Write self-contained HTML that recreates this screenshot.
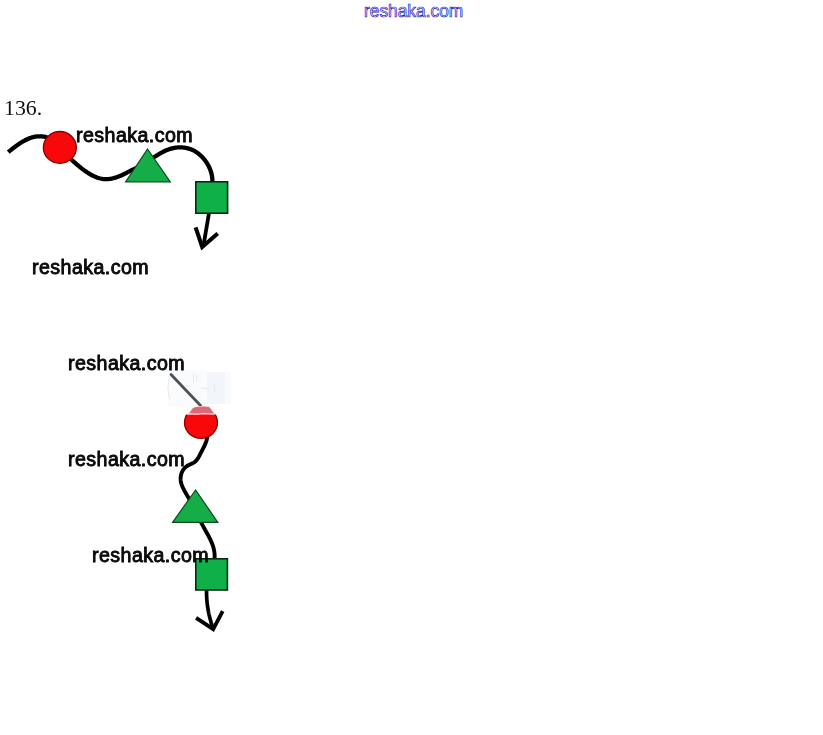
<!DOCTYPE html>
<html><head><meta charset="utf-8">
<style>
html,body{margin:0;padding:0;background:#fff;width:823px;height:735px;overflow:hidden;position:relative}
.t{position:absolute;will-change:transform;font-family:"Liberation Sans",sans-serif;font-weight:normal;font-size:19.6px;line-height:1;color:#111;-webkit-text-stroke:0.85px #000;letter-spacing:0.45px;white-space:nowrap;transform-origin:0 0;transform:scaleX(1.0)}
#hdr{position:absolute;left:363.9px;top:2.9px;font-family:"Liberation Sans",sans-serif;font-weight:normal;font-size:17.7px;line-height:1;color:#f0f0ff;-webkit-text-stroke:0.7px #2020c0;white-space:nowrap;transform-origin:0 0;transform:scaleX(0.98)}
#num{position:absolute;will-change:transform;left:4.1px;top:97.6px;font-family:"Liberation Serif",serif;font-size:21.8px;line-height:1;color:#111;white-space:nowrap}
svg{position:absolute;left:0;top:0}
</style></head><body>
<svg width="823" height="735" viewBox="0 0 823 735">
  <g fill="none" stroke="#000" stroke-linecap="butt" stroke-linejoin="round">
    <path d="M8.25,152.14 L8.69,151.78 L9.13,151.42 L9.57,151.07 L10.02,150.70 L10.47,150.34 L10.92,149.98 L11.38,149.62 L11.84,149.25 L12.30,148.89 L12.76,148.53 L13.23,148.16 L13.70,147.80 L14.17,147.44 L14.64,147.08 L15.12,146.72 L15.60,146.36 L16.08,146.01 L16.56,145.65 L17.05,145.30 L17.54,144.96 L18.03,144.61 L18.52,144.27 L19.02,143.93 L19.52,143.60 L20.02,143.27 L20.52,142.94 L21.03,142.62 L21.54,142.30 L22.05,141.99 L22.56,141.69 L23.08,141.39 L23.60,141.09 L24.12,140.80 L24.64,140.52 L25.16,140.25 L25.69,139.98 L26.22,139.72 L26.75,139.46 L27.28,139.22 L27.81,138.98 L28.35,138.75 L28.89,138.53 L29.43,138.32 L29.97,138.11 L30.52,137.92 L31.06,137.73 L31.61,137.56 L32.16,137.39 L32.72,137.24 L33.27,137.09 L33.83,136.96 L34.39,136.84 L34.95,136.73 L35.51,136.63 L36.07,136.54 L36.64,136.47 L37.20,136.40 L37.77,136.35 L38.34,136.31 L38.91,136.29 L39.49,136.28 L40.06,136.28 L40.64,136.30 L41.22,136.33 L41.80,136.37 L42.38,136.43 L42.97,136.51 L43.55,136.60 L44.14,136.70 L44.72,136.82 L45.31,136.96 L45.90,137.11 L46.50,137.28 L47.09,137.47 L47.69,137.67 L48.28,137.89 L48.88,138.13 L49.48,138.39 L50.08,138.66" stroke-width="4.3"/>
    <path d="M68.18,156.84 L68.89,157.45 L69.61,158.07 L70.33,158.71 L71.07,159.35 L71.81,160.01 L72.56,160.67 L73.32,161.34 L74.09,162.02 L74.86,162.70 L75.65,163.39 L76.44,164.07 L77.24,164.76 L78.05,165.45 L78.86,166.13 L79.69,166.81 L80.52,167.49 L81.36,168.16 L82.20,168.82 L83.05,169.47 L83.91,170.12 L84.78,170.75 L85.65,171.37 L86.53,171.98 L87.42,172.57 L88.31,173.14 L89.21,173.70 L90.11,174.24 L91.02,174.76 L91.94,175.25 L92.86,175.73 L93.79,176.17 L94.72,176.60 L95.66,176.99 L96.61,177.36 L97.56,177.70 L98.51,178.00 L99.47,178.28 L100.44,178.52 L101.41,178.73 L102.38,178.90 L103.36,179.03 L104.34,179.12 L105.33,179.18 L106.32,179.19 L107.32,179.16 L108.31,179.09 L109.31,178.98 L110.32,178.84 L111.32,178.67 L112.32,178.46 L113.33,178.22 L114.33,177.95 L115.33,177.65 L116.33,177.33 L117.32,176.98 L118.31,176.62 L119.30,176.23 L120.28,175.82 L121.26,175.40 L122.23,174.97 L123.19,174.52 L124.15,174.06 L125.10,173.59 L126.05,173.11 L126.99,172.63 L127.93,172.15 L128.87,171.67 L129.80,171.18 L130.73,170.70 L131.65,170.23 L132.58,169.76 L133.50,169.30 L134.43,168.86 L135.35,168.42 L136.27,168.00 L137.19,167.60 L138.11,167.21 L139.03,166.85 L139.96,166.51" stroke-width="4.3"/>
    <path d="M148.10,161.12 L149.00,160.53 L149.91,159.93 L150.84,159.32 L151.77,158.70 L152.71,158.07 L153.66,157.45 L154.63,156.82 L155.60,156.19 L156.58,155.57 L157.57,154.96 L158.57,154.35 L159.57,153.76 L160.59,153.17 L161.61,152.61 L162.64,152.06 L163.69,151.53 L164.73,151.03 L165.79,150.55 L166.85,150.10 L167.93,149.67 L169.00,149.28 L170.09,148.92 L171.18,148.60 L172.28,148.31 L173.38,148.06 L174.49,147.85 L175.60,147.68 L176.71,147.54 L177.83,147.44 L178.94,147.38 L180.05,147.36 L181.16,147.38 L182.27,147.43 L183.37,147.53 L184.46,147.66 L185.55,147.83 L186.63,148.05 L187.71,148.30 L188.77,148.60 L189.82,148.93 L190.86,149.31 L191.89,149.73 L192.91,150.19 L193.91,150.69 L194.89,151.23 L195.86,151.82 L196.80,152.44 L197.73,153.10 L198.64,153.79 L199.53,154.52 L200.40,155.28 L201.25,156.07 L202.07,156.90 L202.87,157.75 L203.64,158.62 L204.39,159.53 L205.11,160.45 L205.80,161.40 L206.46,162.37 L207.10,163.36 L207.70,164.37 L208.27,165.39 L208.80,166.43 L209.31,167.48 L209.78,168.55 L210.21,169.62 L210.61,170.71 L210.97,171.80 L211.29,172.90 L211.57,174.00 L211.81,175.11 L212.01,176.22 L212.17,177.33 L212.29,178.44 L212.36,179.54 L212.38,180.65 L212.37,181.74 L212.30,182.83 L212.19,183.92" stroke-width="4.3"/>
    <path d="M209,213 L203.5,245.5" stroke-width="3.8"/>
    <path d="M195.6,227.4 L202.2,247 L217.7,233.4" stroke-width="4" stroke-linejoin="miter"/>
  </g>
  <ellipse cx="59.85" cy="147.4" rx="16.5" ry="15.9" fill="#f80808" stroke="#8a0000" stroke-width="1.3"/>
  <polygon points="147.5,149 125.6,181.8 170.3,181.8" fill="#14ad48" stroke="#0b4a1f" stroke-width="1.2"/>
  <rect x="195.8" y="181.8" width="31.8" height="31.4" fill="#10b048" stroke="#0c2a12" stroke-width="1.6"/>

  <!-- lower diagram -->
  <rect x="168" y="370" width="39" height="37" fill="#fafbfc"/>
  <rect x="207" y="372" width="18" height="32" fill="#f2f6fa"/>
  <rect x="225" y="372" width="6" height="32" fill="#f8fafc"/>
  <g fill="none" stroke="#e3e6ea" stroke-width="0.9">
    <path d="M169,379 Q166.5,389 169.5,399"/>
    <path d="M193.5,374 L193.5,383"/><path d="M197,374.5 L197,382"/>
    <path d="M185,385.5 L191,386.5"/><path d="M201,388 L209,389"/>
    <path d="M214,384 L215,392"/>
  </g>
  <path d="M171,374.5 L200.5,405.5" fill="none" stroke="#4d5259" stroke-width="2.8" stroke-linecap="round"/>
  <g fill="none" stroke="#000" stroke-linecap="butt" stroke-linejoin="round">
    <path d="M207.48,433.98 L207.46,435.06 L207.38,436.11 L207.26,437.15 L207.09,438.17 L206.88,439.17 L206.62,440.16 L206.33,441.14 L206.00,442.10 L205.65,443.05 L205.26,444.00 L204.86,444.93 L204.43,445.86 L203.98,446.79 L203.52,447.71 L203.05,448.63 L202.58,449.55 L202.09,450.47 L201.61,451.39 L201.13,452.32 L200.65,453.25 L200.18,454.18 L199.71,455.12 L199.23,456.04 L198.74,456.95 L198.22,457.84 L197.68,458.70 L197.09,459.52 L196.46,460.30 L195.78,461.04 L195.03,461.72 L194.22,462.33 L193.33,462.89 L192.39,463.38 L191.40,463.85 L190.40,464.29 L189.39,464.75 L188.42,465.22 L187.48,465.75 L186.61,466.32 L185.80,466.96 L185.04,467.64 L184.34,468.36 L183.71,469.13 L183.13,469.94 L182.61,470.79 L182.16,471.66 L181.76,472.57 L181.42,473.50 L181.14,474.45 L180.92,475.42 L180.76,476.40 L180.65,477.40 L180.61,478.40 L180.63,479.41 L180.70,480.42 L180.84,481.42 L181.03,482.42 L181.28,483.42 L181.57,484.40 L181.92,485.38 L182.30,486.36 L182.72,487.33 L183.17,488.29 L183.64,489.25 L184.14,490.20 L184.66,491.14 L185.19,492.09 L185.73,493.02 L186.27,493.95 L186.81,494.88 L187.35,495.79 L187.88,496.71 L188.39,497.62 L188.89,498.52 L189.36,499.42 L189.80,500.32 L190.21,501.21 L190.58,502.09 L190.91,502.97" stroke-width="3.9"/>
    <path d="M199.49,519.03 L199.72,519.54 L199.96,520.06 L200.19,520.57 L200.44,521.08 L200.69,521.59 L200.94,522.10 L201.20,522.61 L201.46,523.12 L201.72,523.63 L201.99,524.14 L202.26,524.64 L202.53,525.15 L202.80,525.66 L203.08,526.16 L203.36,526.67 L203.64,527.17 L203.92,527.68 L204.20,528.18 L204.49,528.69 L204.77,529.19 L205.06,529.69 L205.34,530.20 L205.63,530.70 L205.91,531.21 L206.20,531.71 L206.48,532.22 L206.77,532.72 L207.05,533.23 L207.33,533.74 L207.61,534.25 L207.89,534.75 L208.16,535.26 L208.43,535.77 L208.70,536.28 L208.97,536.79 L209.23,537.31 L209.49,537.82 L209.75,538.33 L210.01,538.85 L210.25,539.36 L210.50,539.88 L210.74,540.40 L210.97,540.92 L211.21,541.44 L211.43,541.97 L211.65,542.49 L211.86,543.02 L212.07,543.55 L212.27,544.08 L212.47,544.61 L212.66,545.14 L212.84,545.68 L213.01,546.21 L213.18,546.75 L213.34,547.30 L213.49,547.84 L213.63,548.38 L213.77,548.93 L213.89,549.48 L214.01,550.04 L214.12,550.59 L214.22,551.15 L214.31,551.71 L214.39,552.27 L214.46,552.84 L214.51,553.41 L214.56,553.98 L214.60,554.55 L214.63,555.13 L214.64,555.71 L214.65,556.29 L214.64,556.88 L214.62,557.47 L214.58,558.06 L214.54,558.66 L214.48,559.26 L214.41,559.86 L214.33,560.47 L214.23,561.08" stroke-width="3.9"/>
    <path d="M206.62,588.99 L206.60,589.51 L206.58,590.03 L206.57,590.55 L206.56,591.07 L206.56,591.59 L206.55,592.10 L206.55,592.62 L206.55,593.14 L206.56,593.65 L206.57,594.17 L206.58,594.69 L206.59,595.20 L206.61,595.72 L206.63,596.24 L206.65,596.75 L206.67,597.27 L206.70,597.78 L206.73,598.30 L206.77,598.81 L206.80,599.33 L206.84,599.84 L206.88,600.36 L206.93,600.87 L206.97,601.38 L207.02,601.90 L207.07,602.41 L207.13,602.92 L207.18,603.44 L207.24,603.95 L207.31,604.46 L207.37,604.97 L207.44,605.48 L207.51,605.99 L207.58,606.50 L207.66,607.01 L207.73,607.52 L207.81,608.03 L207.90,608.54 L207.98,609.05 L208.07,609.56 L208.16,610.06 L208.25,610.57 L208.35,611.08 L208.44,611.59 L208.54,612.09 L208.64,612.60 L208.75,613.10 L208.85,613.61 L208.96,614.11 L209.07,614.62 L209.19,615.12 L209.30,615.62 L209.42,616.12 L209.54,616.63 L209.66,617.13 L209.79,617.63 L209.91,618.13 L210.04,618.63 L210.17,619.13 L210.31,619.63 L210.44,620.12 L210.58,620.62 L210.72,621.12 L210.86,621.62 L211.01,622.11 L211.15,622.61 L211.30,623.10 L211.45,623.60 L211.60,624.09 L211.76,624.58 L211.91,625.08 L212.07,625.57 L212.23,626.06 L212.39,626.55 L212.56,627.04 L212.72,627.53 L212.89,628.02 L213.06,628.50 L213.23,628.99" stroke-width="3.7"/>
    <path d="M196.1,617.8 L213.2,629.2 L222.7,611.2" stroke-width="3.8" stroke-linejoin="miter"/>
  </g>
  <ellipse cx="201" cy="422.6" rx="16.5" ry="15.7" fill="#f80808" stroke="#8a0000" stroke-width="1.3"/>
  <path d="M182,414.3 L182,406 L220,406 L220,414.3 Z" fill="#fdfafa"/>
  <path d="M188.5,414 L193,408 C197,406.3 205,406.2 209.5,407.2 L214.5,414 Z" fill="#dc6878"/>
  <path d="M186.5,414.3 C191,413 195,414.8 201,413.8 C206,412.9 211,414.8 216,413.8" fill="none" stroke="#f8e4e4" stroke-width="1.1"/>
  <polygon points="195.6,490 172.6,522.3 217.8,522.3" fill="#14ad48" stroke="#0b4a1f" stroke-width="1.2"/>
  <rect x="195.8" y="558.8" width="31.6" height="31.2" fill="#10b048" stroke="#0c2a12" stroke-width="1.6"/>
</svg>
<div id="hdr">reshaka.com</div>
<div id="num">136.</div>
<div class="t" style="left:76.1px;top:125.85px">reshaka.com</div>
<div class="t" style="left:31.7px;top:257.95px">reshaka.com</div>
<div class="t" style="left:68px;top:353.95px">reshaka.com</div>
<div class="t" style="left:68px;top:450px">reshaka.com</div>
<div class="t" style="left:92px;top:546px">reshaka.com</div>
</body></html>
